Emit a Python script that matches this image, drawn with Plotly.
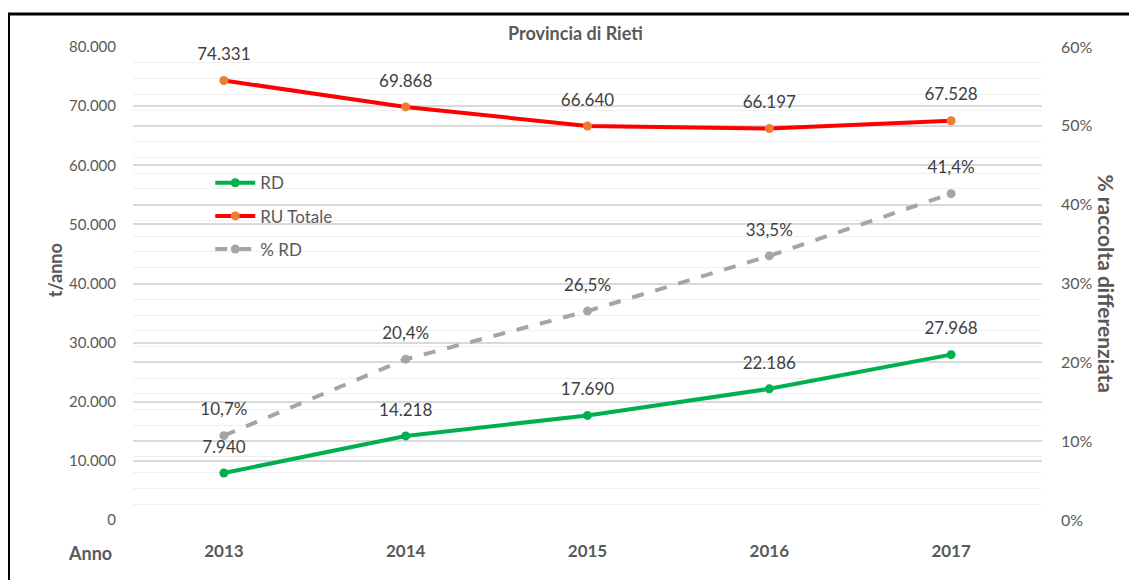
import plotly.graph_objects as go

years = ["2013", "2014", "2015", "2016", "2017"]
rd = [7940, 14218, 17690, 22186, 27968]
ru_totale = [74331, 69868, 66640, 66197, 67528]
pct_rd = [0.107, 0.204, 0.265, 0.335, 0.414]

rd_labels = ["7.940", "14.218", "17.690", "22.186", "27.968"]
ru_labels = ["74.331", "69.868", "66.640", "66.197", "67.528"]
pct_labels = ["10,7%", "20,4%", "26,5%", "33,5%", "41,4%"]

left_ticks = [0, 10000, 20000, 30000, 40000, 50000, 60000, 70000, 80000]
left_tick_text = ["0", "10.000", "20.000", "30.000", "40.000", "50.000", "60.000", "70.000", "80.000"]
right_ticks = [0, 0.1, 0.2, 0.3, 0.4, 0.5, 0.6]
right_tick_text = ["0%", "10%", "20%", "30%", "40%", "50%", "60%"]

FONT = "Lato, Open Sans, sans-serif"
GREY_TEXT = "#595959"
LABEL_FONT = dict(family=FONT, size=17, color="#404040")

fig = go.Figure()

series = [
    ("RD", rd, rd_labels, "y", "#00B050", "#00B050", "solid"),
    ("RU Totale", ru_totale, ru_labels, "y", "#FF0000", "#ED7D31", "solid"),
    ("% RD", pct_rd, pct_labels, "y2", "#A5A5A5", "#A5A5A5", "dash"),
]

for name, values, labels, axis, line_color, marker_color, dash in series:
    fig.add_trace(go.Scatter(
        x=years, y=values, name=name, mode="lines+markers", yaxis=axis,
        line=dict(color=line_color, width=4, dash=dash),
        marker=dict(color=marker_color, size=9),
        legendgroup=name,
    ))
    # data labels: invisible big marker pushes the text above the point
    fig.add_trace(go.Scatter(
        x=years, y=values, mode="markers+text", yaxis=axis,
        marker=dict(size=24, color="rgba(0,0,0,0)"),
        text=labels, textposition="top center", textfont=LABEL_FONT,
        cliponaxis=False, showlegend=False, hoverinfo="skip", legendgroup=name,
    ))

fig.update_layout(
    width=1129,
    height=572,
    margin=dict(l=125, r=95, t=39, b=60, autoexpand=False),
    paper_bgcolor="white",
    plot_bgcolor="white",
    font=dict(family=FONT, color=GREY_TEXT, size=16),
    showlegend=True,
    legend=dict(
        x=0.085, y=0.75, xanchor="left", yanchor="top",
        bgcolor="rgba(0,0,0,0)", font=dict(size=17, color=GREY_TEXT),
        tracegroupgap=8, itemwidth=40,
    ),
    xaxis=dict(
        type="category", range=[-0.5, 4.5], showgrid=False, zeroline=False,
        showline=False, ticks="", ticklabelstandoff=19,
        tickfont=dict(family=FONT, size=17, color=GREY_TEXT, weight="bold"),
    ),
    yaxis=dict(
        range=[0, 80000], tickvals=left_ticks, ticktext=left_tick_text,
        showgrid=True, gridcolor="#D9D9D9", gridwidth=1.5, zeroline=False,
        showline=False, ticks="", ticklabelstandoff=16,
        tickfont=dict(family=FONT, size=15, color=GREY_TEXT),
    ),
    yaxis2=dict(
        overlaying="y", side="right", range=[0, 0.6],
        tickvals=right_ticks, ticktext=right_tick_text,
        showgrid=True, gridcolor="#D9D9D9", gridwidth=1.5, zeroline=False,
        minor=dict(dtick=0.02, showgrid=True, gridcolor="#EFEFEF", gridwidth=1),
        showline=False, ticks="", ticklabelstandoff=18,
        tickfont=dict(family=FONT, size=16, color=GREY_TEXT),
    ),
)

fig.add_annotation(
    text="<b>Provincia di Rieti</b>", xref="paper", yref="paper",
    x=0.487, y=1.03, xanchor="center", yanchor="middle", showarrow=False,
    font=dict(family=FONT, size=18, color=GREY_TEXT),
)
fig.add_annotation(
    text="<b>t/anno</b>", xref="paper", yref="paper",
    x=-0.0858, y=0.528, xanchor="center", yanchor="middle", showarrow=False,
    textangle=-90, font=dict(family=FONT, size=18, color=GREY_TEXT),
)
fig.add_annotation(
    text="<b>% raccolta differenziata</b>", xref="paper", yref="paper",
    x=1.0715, y=0.50, xanchor="center", yanchor="middle", showarrow=False,
    textangle=90, font=dict(family=FONT, size=21, color=GREY_TEXT),
)
fig.add_annotation(
    text="<b>Anno</b>", xref="paper", yref="paper",
    x=-0.047, y=-0.07, xanchor="center", yanchor="middle", showarrow=False,
    font=dict(family=FONT, size=18, color=GREY_TEXT),
)

# outer frame of the original picture (cropped at right and bottom)
fig.add_shape(
    type="rect", xref="paper", yref="paper",
    x0=-0.137, x1=1.12, y0=-0.2, y1=1.07,
    line=dict(color="black", width=3), layer="above",
)

fig.write_html("out.html")
